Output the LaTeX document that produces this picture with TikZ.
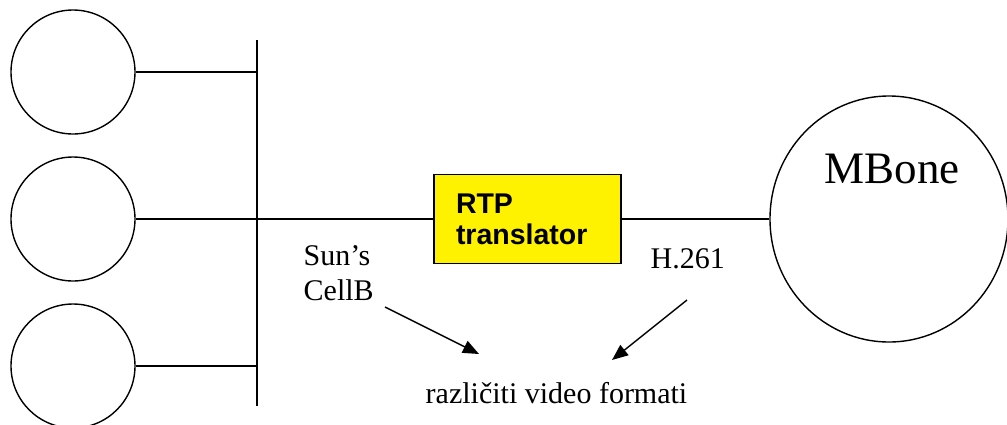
\documentclass[tikz,border=0pt]{standalone}
\usepackage{fontspec}
\setmainfont{Liberation Serif}
\setsansfont{Liberation Sans}
\usetikzlibrary{arrows.meta,shapes.geometric}
\begin{document}
\begin{tikzpicture}[x=1pt,y=-1pt,line width=1.4pt,
  host/.style={circle,draw,minimum size=124pt,inner sep=0pt},
  cloud/.style={ellipse,draw,minimum width=238pt,minimum height=246pt,inner sep=0pt},
  transbox/.style={draw,fill=yellow,minimum width=187pt,minimum height=89pt,
    inner xsep=22pt,inner ysep=0pt,text width=143pt,align=left,
    font=\sffamily\bfseries\fontsize{28.5}{31}\selectfont},
  lbl/.style={anchor=base west,inner sep=0pt,font=\fontsize{30}{34}\selectfont},
  pointer/.style={-{Triangle[length=16pt,width=13pt]}}]
  \path[use as bounding box] (0,0) rectangle (1007,424);

  % hosts on the shared segment
  \node[host] (h1) at (73,72) {};
  \node[host] (h2) at (73,219) {};
  \node[host] (h3) at (73,366) {};
  \coordinate (bt) at (257,40);
  \coordinate (bb) at (257,406);
  \draw (bt) -- (bb);
  \draw (h1.east) -- (h1.east -| bt);
  \draw (h3.east) -- (h3.east -| bt);

  % translator and the MBone
  \node[transbox] (rtp) at (527.5,219) {RTP\\translator};
  \node[cloud] (mbone) at (889,219) {};
  \node[anchor=base,inner sep=0pt,font=\fontsize{45}{50}\selectfont] (mt) at (892,183) {MBone};
  \draw (h2.east) -- (rtp.west);
  \draw (rtp.east) -- (mbone.west);

  % format labels
  \node[lbl] (s1) at (303,265) {Sun’s};
  \node[lbl] (s2) at (303,300) {CellB};
  \node[lbl] (h261) at (650,268) {H.261};
  \node[lbl] (fmt) at (425,403) {različiti video formati};
  \coordinate (a1s) at (385,307);
  \coordinate (a1e) at (479,354);
  \coordinate (a2s) at (687,300);
  \coordinate (a2e) at (612,360);
  \draw[pointer] (a1s) -- (a1e);
  \draw[pointer] (a2s) -- (a2e);
\end{tikzpicture}
\end{document}
